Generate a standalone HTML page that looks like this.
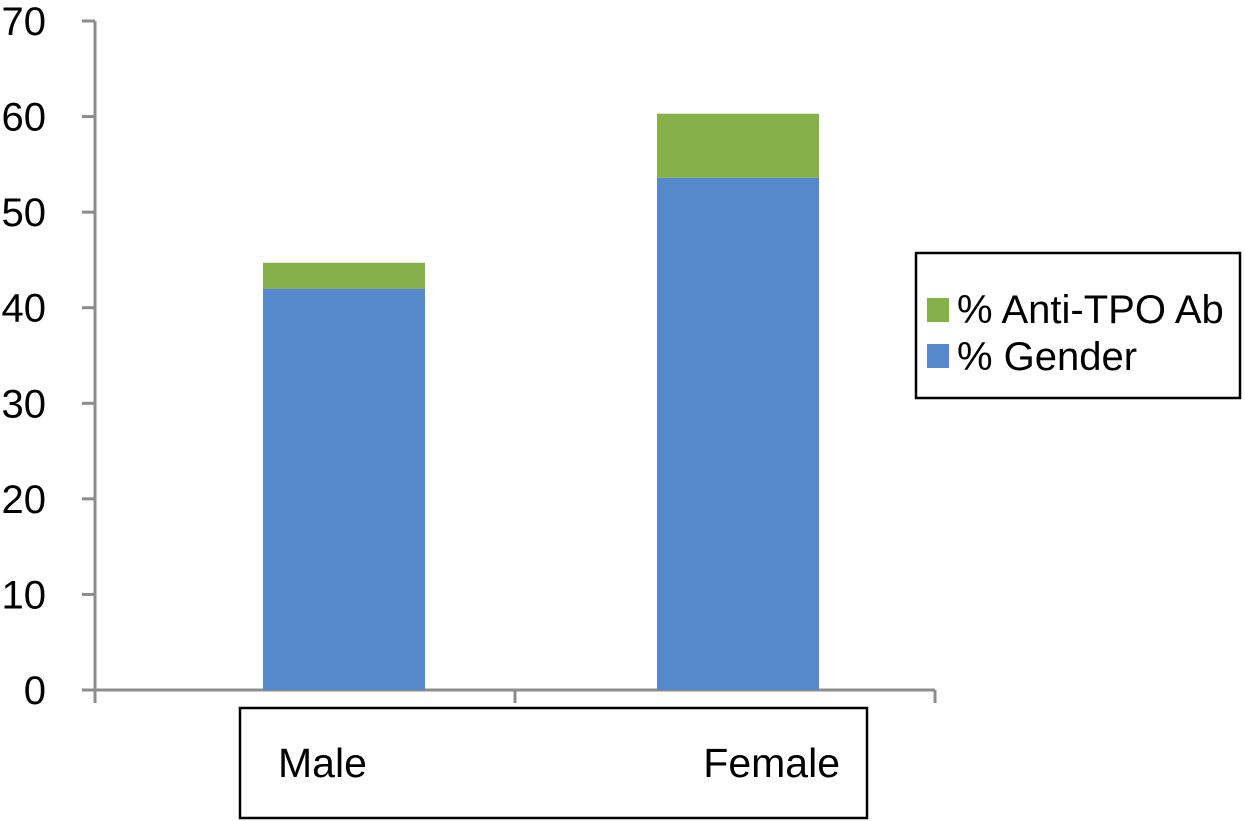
<!DOCTYPE html>
<html><head><meta charset="utf-8"><style>
body{margin:0;background:#fff;width:1245px;height:821px;overflow:hidden}
svg{display:block;font-family:"Liberation Sans",Arial,sans-serif}
</style></head><body>
<svg id="chart" width="1245" height="821">
<g id="axes"></g>
<g id="bars"></g>
<rect x="240" y="708" width="627" height="110" fill="none" stroke="#000" stroke-width="2.5"/>
<text x="278" y="777" font-size="41">Male</text>
<text x="840" y="777" font-size="41" text-anchor="end">Female</text>
<g>
<rect x="916" y="253" width="324" height="145" fill="#fff" stroke="#000" stroke-width="2.5"/>
<rect x="927" y="298" width="22" height="24" fill="#86b04a"/>
<text x="957" y="323" font-size="40">% Anti-TPO Ab</text>
<rect x="927" y="344" width="22" height="24" fill="#5689cc"/>
<text x="957" y="370" font-size="40">% Gender</text>
</g>
</svg>
<script>
const categories=["Male","Female"];
const genderValues=[42,53.6];
const antiTpoValues=[2.7,6.7];
const tickLabels=[0,10,20,30,40,50,60,70];
const NS="http://www.w3.org/2000/svg";
const y0=690,yTop=21,yMax=70,xL=95,xR=935;
const y=v=>y0-(v/yMax)*(y0-yTop);
const bandW=(xR-xL)/categories.length;
const bx=i=>263+i*394;
const barW=162;
function mk(tag,attrs,parent){const e=document.createElementNS(NS,tag);for(const k in attrs)e.setAttribute(k,attrs[k]);parent.appendChild(e);return e;}
const ax=document.getElementById('axes'),bars=document.getElementById('bars');
let l=mk('line',{x1:xL,y1:yTop,x2:xL,y2:y0,stroke:'#8c8c8c','stroke-width':3},ax);


l=mk('line',{x1:xL,y1:y0,x2:xR,y2:y0,stroke:'#8c8c8c','stroke-width':3},ax);


tickLabels.forEach(t=>{
 const tk=mk('line',{x1:82,y1:y(t),x2:xL,y2:y(t),stroke:'#8c8c8c','stroke-width':3},ax);
 
 
 const tx=mk('text',{x:46,y:y(t)+14,'font-size':40,'text-anchor':'end'},ax);
 tx.textContent=t;
 
 
});
for(let i=0;i<=categories.length;i++){
 const tk=mk('line',{x1:xL+bandW*i,y1:y0,x2:xL+bandW*i,y2:703,stroke:'#8c8c8c','stroke-width':3},ax);
 
 
}
categories.forEach((c,i)=>{
 const g=genderValues[i],a=antiTpoValues[i];
 const r1=mk('rect',{x:bx(i),y:y(g),width:barW,height:y0-y(g),fill:'#5689cc'},bars);
 
 
 const r2=mk('rect',{x:bx(i),y:y(g+a),width:barW,height:y(g)-y(g+a),fill:'#86b04a'},bars);
 
 
});
</script>
</body></html>
